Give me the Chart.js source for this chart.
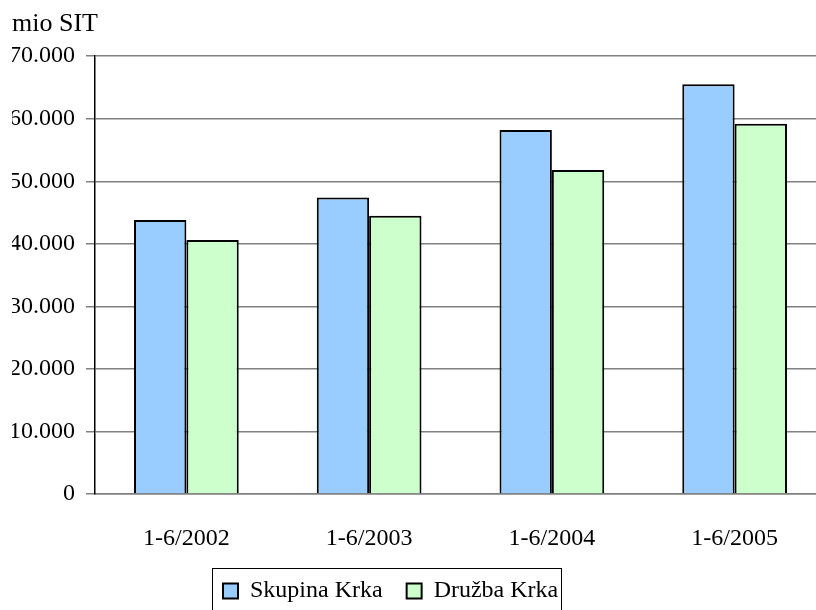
<!DOCTYPE html>
<html>
<head>
<meta charset="utf-8">
<script src="https://cdn.jsdelivr.net/npm/chart.js@4.4.1/dist/chart.umd.min.js"></script>
<style>
  html, body { margin: 0; padding: 0; background: #fff; overflow: hidden; }
  #wrap { width: 830px; height: 610px; position: relative; }
</style>
</head>
<body>
<div id="wrap"><canvas id="prodaja"></canvas></div>
<script>
const categories = ['1-6/2002', '1-6/2003', '1-6/2004', '1-6/2005'];
const skupinaKrka = [43800, 47400, 58200, 65500];
const druzbaKrka = [40600, 44500, 51800, 59200];
const yTickLabels = ['0', '10.000', '20.000', '30.000', '40.000', '50.000', '60.000', '70.000'];

const serif = "'Liberation Serif', 'Times New Roman', serif";
const legendPad = 24;

// move legend to the left and draw a frame round it, like the original
const legendFrame = {
  id: 'legendFrame',
  afterLayout(chart) {
    const lg = chart.legend;
    lg.left = 223 - legendPad;
    lg.top = 555;
  },
  afterDraw(chart) {
    const lg = chart.legend;
    const ctx = chart.ctx;
    const x0 = lg.left + legendPad - 11;
    const x1 = lg.left + lg.lineWidths[0] + 3;
    ctx.save();
    ctx.strokeStyle = '#000';
    ctx.lineWidth = 1;
    ctx.strokeRect(Math.round(x0) + 0.5, lg.top + 13.5, Math.round(x1 - x0), 80);
    ctx.restore();
  }
};

let ctx = document.getElementById('prodaja').getContext('2d');
var barChart = new Chart(ctx, {
  type: 'bar',
  data: {
    labels: categories,
    datasets: [{
      label: 'Skupina Krka',
      data: skupinaKrka,
      backgroundColor: '#99CCFF',
      borderColor: '#000',
      borderWidth: 2
    }, {
      label: 'Družba Krka',
      data: druzbaKrka,
      backgroundColor: '#CCFFCC',
      borderColor: '#000',
      borderWidth: 2
    }]
  },
  options: {
    responsive: true,
    maintainAspectRatio: false,
    animation: false,
    layout: { padding: { left: 12, right: 4, top: 0, bottom: 0 } },
    datasets: { bar: { categoryPercentage: 0.573, barPercentage: 1 } },
    plugins: {
      title: {
        display: true,
        text: 'mio SIT',
        align: 'start',
        color: '#000',
        font: { family: serif, size: 26, weight: 'normal' },
        padding: { top: 9, bottom: 16 }
      },
      legend: {
        position: 'bottom',
        align: 'start',
        maxHeight: 46,
        labels: {
          color: '#000',
          font: { family: serif, size: 24 },
          boxWidth: 15,
          boxHeight: 15,
          padding: legendPad
        }
      },
      tooltip: { enabled: false }
    },
    scales: {
      x: {
        grid: { display: false },
        border: { color: '#808080', width: 1.5 },
        ticks: { color: '#000', padding: 22, font: { family: serif, size: 24 } },
        afterFit(scale) { scale.height = 70; }
      },
      y: {
        min: 0,
        max: 70000,
        ticks: {
          stepSize: 10000,
          color: '#000',
          padding: 11,
          font: { family: serif, size: 24 },
          callback: (v) => yTickLabels[Math.round(v / 10000)]
        },
        grid: { color: '#808080', lineWidth: 1.5, tickLength: 9, tickColor: '#808080' },
        border: { color: '#000', width: 1.5 },
        afterFit(scale) { scale.width = 95 - 12; }
      }
    }
  },
  plugins: [legendFrame]
});
</script>
</body>
</html>
